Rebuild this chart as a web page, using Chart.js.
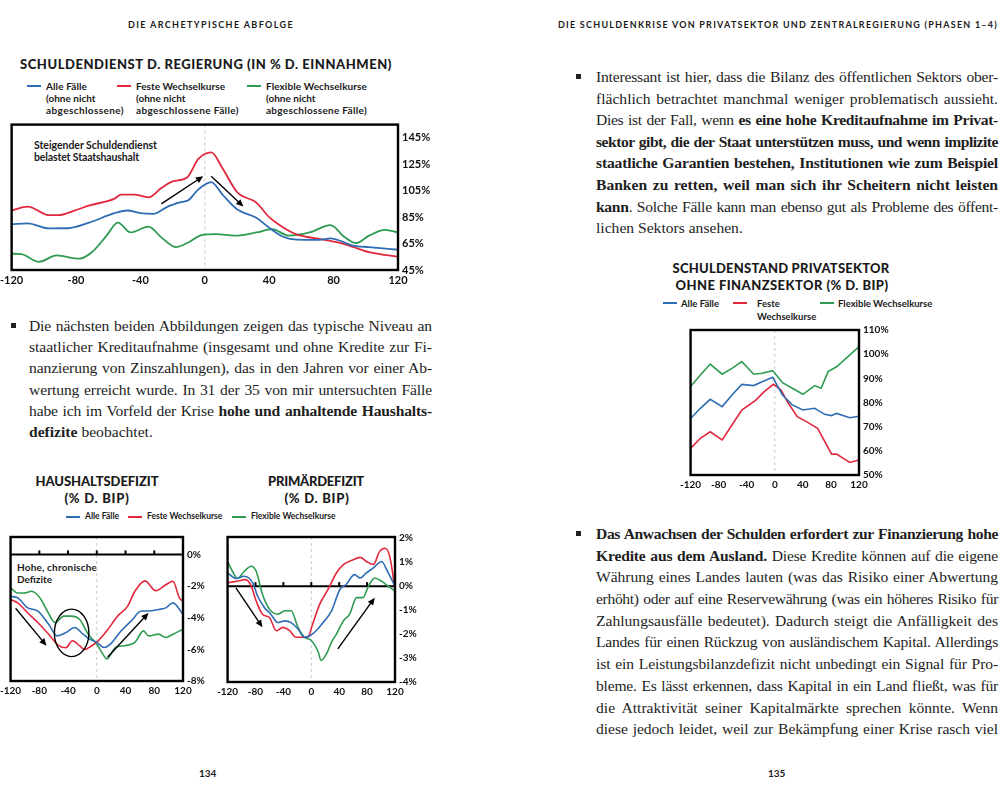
<!DOCTYPE html>
<html><head><meta charset="utf-8">
<script src="https://cdn.jsdelivr.net/npm/chart.js@4.4.1/dist/chart.umd.min.js"></script>
<style>
html,body{margin:0;padding:0;background:#fff;width:1000px;height:800px;overflow:hidden;position:relative;}
.abs{position:absolute;white-space:nowrap;}
.sans{font-family:Lato,'DejaVu Sans',sans-serif;font-weight:700;color:#1a1a1a;}
.hdr{font-size:9px;letter-spacing:2px;}
.ctitle{font-size:13px;font-weight:900;line-height:17px;}
.lg{font-size:10px;line-height:12px;}
.body{font-family:'Liberation Serif','DejaVu Serif',serif;font-size:15.6px;color:#1e1e1e;}
.bullet{position:absolute;width:5px;height:5px;background:#222;}
.lgline{position:absolute;height:2px;}
canvas{position:absolute;}
</style></head>
<body>
<script>
// ---------- DATA ----------
const seriesNames = ['Alle Fälle','Feste Wechselkurse','Flexible Wechselkurse'];
const seriesColors = ['#2e6db4','#e2283c','#2f9a52'];

// Chart 1: Schuldendienst d. Regierung (in % d. Einnahmen)
const c1BlueX = [-120,-110,-97,-85,-72,-56,-48,-40,-32,-23,-16,-10,-4,4,11,20,32,40,49,57,71,78,92,102,120];
const c1BlueY = [79.6,80.3,76.5,76.6,80.8,88,90,88,87.4,93,96,98,106,111.5,102,91,84.5,77,70,68,67.8,69,63.5,62.3,60.3];
const c1RedX = [-120,-110,-97,-91,-81,-71,-56,-52,-44,-35,-27,-20,-11,-4,4,11,20,32,40,49,57,71,82,92,102,120];
const c1RedY = [90,93,86.5,86.5,90,94,99,102,102,100,107,112,115,129,134,122,104,96,85,77,72,68.5,66,62.5,58.5,55];
const c1GreenX = [-120,-114,-103,-92,-78,-70,-61,-54,-46,-35,-27,-18,-10,-2,7,19,32,42,52,65,78,87,94,102,112,120];
const c1GreenY = [57.3,57,51.2,56,53.6,58.6,71,80.8,73.4,77.8,69.7,62.3,66,71.4,72.2,71,73.4,75.9,71,73.4,78.9,69.7,65.3,71,75.4,73.4];
const c1YTicks = [45,65,85,105,125,145];
const c1Arrows = [[-27,95,-1,116],[4,116,24,93]];

// Chart 2: Haushaltsdefizit (% d. BIP)
const c2BlueX = [-120,-110,-96,-82,-67,-55,-43,-31,-19,-10,0,10,19,34,48,62,72,86,96,106,120];
const c2BlueY = [-2.65,-2.75,-3.38,-3.58,-4.42,-5.15,-4.94,-4.62,-5.04,-5.35,-5.56,-5.88,-5.67,-4.83,-4.2,-3.58,-3.58,-3.48,-3.38,-3.06,-3.79];
const c2RedX = [-120,-110,-96,-82,-67,-53,-43,-34,-24,-17,-7,2,14,29,43,53,67,82,96,106,115,120];
const c2RedY = [-2.85,-3.06,-3.7,-4.3,-5.04,-5.77,-5.9,-5.46,-5.77,-6.0,-5.77,-5.46,-4.83,-3.9,-3.27,-2.33,-1.67,-2.3,-1.92,-1.7,-2.75,-2.96];
const c2GreenX = [-120,-110,-101,-91,-79,-70,-58,-46,-36,-24,-12,0,7,14,26,38,53,65,72,86,96,106,120];
const c2GreenY = [-2.12,-2.44,-2.44,-2.33,-2.75,-3.48,-4.31,-3.9,-3.9,-4.1,-5.04,-5.67,-6.19,-6.6,-5.88,-5.77,-5.56,-4.83,-5.15,-5.04,-5.25,-5.04,-4.73];
const c2YTicks = [-8,-6,-4,-2,0];
const c2Arrows = [[-113,-3.4,-70,-5.77],[15,-6.5,72,-3.7]];
const c2Ellipse = [-35,-4.96,24,1.5];

// Chart 3: Primärdefizit (% d. BIP)
const c3BlueX = [-120,-108,-96,-84,-77,-67,-58,-48,-38,-29,-19,-10,-2,7,17,29,41,50,62,70,79,89,101,108,120];
const c3BlueY = [0.55,0.32,0.41,0.14,-0.41,-0.9,-1.17,-1.52,-1.45,-1.52,-1.79,-2.13,-2.07,-1.86,-1.52,-1.03,-0.14,0.07,0.48,0.34,0.55,0.76,1.03,0.69,0];
const c3RedX = [-120,-108,-94,-86,-79,-70,-60,-50,-41,-31,-22,-12,-5,2,12,24,36,46,60,70,79,89,98,106,113,121];
const c3RedY = [0.14,0.2,0.27,0,-0.62,-1.17,-1.31,-1.86,-1.72,-1.86,-2.13,-2.13,-2.13,-1.58,-0.76,-0.14,0.55,0.9,1.1,1.2,1.03,0.9,1.45,1.58,1.17,-0.37];
const c3GreenX = [-120,-113,-106,-96,-86,-79,-70,-60,-48,-38,-29,-19,-10,0,10,14,22,29,36,46,55,65,74,82,91,101,110,120];
const c3GreenY = [1.03,0.62,0.32,0.62,0.83,0.62,-0.34,-0.96,-1.17,-1.03,-1.03,-1.72,-2.13,-2.27,-2.75,-3.1,-2.82,-2.34,-2.0,-1.45,-1.17,-0.48,-0.48,0,0.34,0.2,0,-0.2];
const c3YTicks = [-4,-3,-2,-1,0,1,2];
const c3Arrows = [[-108,-0.07,-70,-1.72],[38,-2.62,91,-0.48]];

// Chart 4: Schuldenstand Privatsektor ohne Finanzsektor (% d. BIP)
const c4BlueX = [-120,-106,-92,-75,-61,-47,-30,-18,-3,11,25,40,57,71,81,88,107,120];
const c4BlueY = [73.4,77.6,81.3,78.3,83.1,87.5,87,88.6,90.4,83.1,79,76.9,77.6,75.1,74.6,75.5,73.7,74.3];
const c4RedX = [-120,-106,-92,-75,-61,-47,-27,-15,-2,9,18,32,45,61,81,88,107,120];
const c4RedY = [61,65.2,67.9,64.5,70.7,76.9,81,84.5,87.5,85.2,80.3,74.1,72.1,69.3,58.6,58.7,55.2,56.2];
const c4GreenX = [-120,-106,-92,-75,-61,-47,-30,-18,-3,11,25,40,57,66,76,88,107,120];
const c4GreenY = [86.6,91.4,95.9,91.7,94.1,96.9,91.7,92.1,93.2,88.2,85.9,83.4,87,85.9,92.8,94.8,99.7,103.1];
const c4YTicks = [50,60,70,80,90,100,110];

const xTicks = [-120,-80,-40,0,40,80,120];

// ---------- HELPERS ----------
function el(tag, cls, css, html){
  const e=document.createElement(tag); if(cls) e.className=cls;
  Object.assign(e.style, css||{}); if(html!==undefined) e.innerHTML=html;
  document.body.appendChild(e); return e;
}
function fitWidth(e, w){
  const w0=e.getBoundingClientRect().width; const n=e.textContent.length;
  const cur=parseFloat(getComputedStyle(e).letterSpacing)||0;
  e.style.letterSpacing=(cur+(w-w0)/n)+'px';
}
function title(text, cx, top, w){
  const e=el('div','abs sans ctitle',{left:'0px',top:top+'px'},text);
  fitWidth(e,w);
  const r=e.getBoundingClientRect().width; e.style.left=(cx-r/2)+'px';
  return e;
}
function label(lines, widths, left, top, size, lh){
  lines.forEach((t,i)=>{
    const e=el('div','abs sans',{left:left+'px',top:(top+i*lh)+'px',fontSize:size+'px',lineHeight:lh+'px'},t);
    if(widths && widths[i]) fitWidth(e,widths[i]);
  });
}
function pts(xs,ys){ return xs.map((x,i)=>({x:x,y:ys[i]})); }

function arrow(ctx,x1,y1,x2,y2){
  const a=Math.atan2(y2-y1,x2-x1), h=8;
  ctx.beginPath(); ctx.moveTo(x1,y1); ctx.lineTo(x2-h*0.7*Math.cos(a), y2-h*0.7*Math.sin(a)); ctx.stroke();
  ctx.beginPath(); ctx.moveTo(x2,y2);
  ctx.lineTo(x2-h*Math.cos(a-0.42), y2-h*Math.sin(a-0.42));
  ctx.lineTo(x2-h*Math.cos(a+0.42), y2-h*Math.sin(a+0.42));
  ctx.closePath(); ctx.fill();
}

function makeDeco(cfg){
  return {
    id:'deco',
    beforeDatasetsDraw(chart){
      const {ctx, chartArea:a, scales:{x,y}} = chart;
      ctx.save();
      const x0=x.getPixelForValue(0);
      ctx.strokeStyle='#c9c9c9'; ctx.lineWidth=1; ctx.setLineDash([3,3]);
      ctx.beginPath(); ctx.moveTo(x0,a.top); ctx.lineTo(x0,a.bottom); ctx.stroke();
      ctx.setLineDash([]);
      if(cfg.zeroLine){
        const y0=y.getPixelForValue(0);
        ctx.strokeStyle='#000'; ctx.lineWidth=2;
        ctx.beginPath(); ctx.moveTo(a.left,y0); ctx.lineTo(a.right,y0); ctx.stroke();
        [-80,-40,0,40,80].forEach(v=>{ const px=x.getPixelForValue(v);
          ctx.beginPath(); ctx.moveTo(px,y0); ctx.lineTo(px,y0-4); ctx.stroke(); });
      }
      ctx.restore();
    },
    afterDatasetsDraw(chart){
      const {ctx, chartArea:a, scales:{x,y}} = chart;
      ctx.save();
      ctx.strokeStyle='#000'; ctx.fillStyle='#000'; ctx.lineWidth=1.4;
      (cfg.arrows||[]).forEach(r=>arrow(ctx,x.getPixelForValue(r[0]),y.getPixelForValue(r[1]),x.getPixelForValue(r[2]),y.getPixelForValue(r[3])));
      if(cfg.ellipse){
        const e=cfg.ellipse; const cx=x.getPixelForValue(e[0]), cy=y.getPixelForValue(e[1]);
        const rx=Math.abs(x.getPixelForValue(e[0]+e[2])-cx), ry=Math.abs(y.getPixelForValue(e[1]+e[3])-cy);
        ctx.beginPath(); ctx.ellipse(cx,cy,rx,ry,0,0,Math.PI*2); ctx.stroke();
      }
      ctx.lineWidth=2.4; ctx.strokeRect(a.left,a.top,a.width,a.height);
      ctx.restore();
    }
  };
}

function makeChart(box, series, yMin, yMax, yTicks, fontSize, lineW, tension, cfg){
  const pl=14, pt=8, yw=36, xh=20;
  const c=document.createElement('canvas');
  const W=pl+(box.r-box.l)+yw, H=pt+(box.b-box.t)+xh;
  c.width=W; c.height=H; c.style.left=(box.l-pl)+'px'; c.style.top=(box.t-pt)+'px';
  document.body.appendChild(c);
  const font={family:'Lato', weight:'bold', size:fontSize};
  return new Chart(c,{
    type:'line',
    data:{datasets:series.map((s,i)=>({label:seriesNames[i], data:pts(s[0],s[1]), borderColor:seriesColors[i],
      borderWidth:lineW, pointRadius:0, tension:tension, cubicInterpolationMode: tension>0?'monotone':'default', fill:false}))},
    options:{
      responsive:false, animation:false, devicePixelRatio:1,
      layout:{padding:{left:pl,top:pt,right:0,bottom:0}},
      plugins:{legend:{display:false}, tooltip:{enabled:false}},
      scales:{
        x:{type:'linear', min:-120, max:120, grid:{display:false, drawTicks:false}, border:{display:false},
          afterBuildTicks:s=>{s.ticks=xTicks.map(v=>({value:v}));},
          afterFit:s=>{s.height=xh;},
          ticks:{color:'#111', font:font, padding:4, maxRotation:0, autoSkip:false}},
        y:{position:'right', min:yMin, max:yMax, grid:{display:false, drawTicks:false}, border:{display:false},
          afterBuildTicks:s=>{s.ticks=yTicks.map(v=>({value:v}));},
          afterFit:s=>{s.width=yw;},
          ticks:{color:'#111', font:font, padding:4, autoSkip:false, callback:v=>v+'%'}}
      }
    },
    plugins:[makeDeco(cfg)]
  });
}

// ---------- PAGE TEXT ----------
function para(left, top, width, lh, lines, justifyLast){
  const box=el('div','body',{position:'absolute',left:left+'px',top:top+'px',width:width+'px'});
  lines.forEach(h=>{
    const d=document.createElement('div'); d.style.height=lh+'px'; d.style.lineHeight=lh+'px'; d.style.whiteSpace='nowrap';
    const s=document.createElement('span'); s.innerHTML=h; d.appendChild(s); box.appendChild(d);
  });
  [...box.children].forEach((d,i)=>{
    const s=d.firstChild;
    const n=(s.textContent.match(/ /g)||[]).length, chars=s.textContent.length;
    let w=s.getBoundingClientRect().width;
    const justify = !(i===lines.length-1 && !justifyLast);
    const minGap = 1.0*n;
    if(width - w < minGap && justify){
      s.style.letterSpacing=((width - w - minGap)/chars)+'px';
      w=s.getBoundingClientRect().width;
    }
    if(justify && n>0) s.style.wordSpacing=((width-w)/n)+'px';
  });
}

function build(){
  const h1=el('div','abs sans hdr',{left:'128px',top:'19px'},'DIE ARCHETYPISCHE ABFOLGE'); fitWidth(h1,166);
  const h2=el('div','abs sans hdr',{left:'558px',top:'19px'},'DIE SCHULDENKRISE VON PRIVATSEKTOR UND ZENTRALREGIERUNG (PHASEN 1–4)'); fitWidth(h2,440);
  el('div','abs sans',{left:'199px',top:'767px',fontSize:'10px'},'134');
  el('div','abs sans',{left:'768px',top:'767px',fontSize:'10px'},'135');

  title('SCHULDENDIENST D. REGIERUNG (IN % D. EINNAHMEN)',206,56,372);
  const c1Notes=[['(ohne nicht','abgeschlossene)'],['(ohne nicht','abgeschlossene Fälle)'],['(ohne nicht','abgeschlossene Fälle)']];
  const c1NoteW=[[41,78],[89,103],[101,101]];
  const c1LgX=[27,117,247];
  seriesNames.forEach((n,i)=>{
    el('div','lgline',{left:c1LgX[i]+'px',top:'85px',width:'14px',background:seriesColors[i]});
    label([n].concat(c1Notes[i]), [c1NoteW[i][0], null, c1NoteW[i][1]], c1LgX[i]+19, 80, 10, 12.2);
  });
  label(['Steigender Schuldendienst','belastet Staatshaushalt'],[123,105],34,140,10.5,11.5);

  title('HAUSHALTSDEFIZIT',97,473,123);
  title('(% D. BIP)',97,490,65);
  title('PRIMÄRDEFIZIT',316,473,96);
  title('(% D. BIP)',317,490,65);
  const lg2X=[66,128,232];
  seriesNames.forEach((n,i)=>{
    el('div','lgline',{left:lg2X[i]+'px',top:'516px',width:'14px',background:seriesColors[i]});
    el('div','abs sans',{left:(lg2X[i]+19)+'px',top:'511px',fontSize:'8.5px'},n);
  });
  label(['Hohe, chronische','Defizite'],[80,null],17,561,10,12);

  title('SCHULDENSTAND PRIVATSEKTOR',781,260,217);
  title('OHNE FINANZSEKTOR (% D. BIP)',782,277,213);
  const lg4X=[663,733,820];
  const lg4T=['Alle Fälle','Feste<br>Wechselkurse','Flexible Wechselkurse'];
  lg4X.forEach((x,i)=>{
    el('div','lgline',{left:x+'px',top:'302px',width:'14px',background:seriesColors[i]});
    el('div','abs sans lg',{left:(x+(i===1?24:18))+'px',top:'297px',fontSize:'9.5px',lineHeight:'13px'},lg4T[i]);
  });

  el('div','bullet',{left:'11px',top:'323px'});
  para(29,315,403,21.2,[
    'Die nächsten beiden Abbildungen zeigen das typische Niveau an',
    'staatlicher Kreditaufnahme (insgesamt und ohne Kredite zur Fi-',
    'nanzierung von Zinszahlungen), das in den Jahren vor einer Ab-',
    'wertung erreicht wurde. In 31 der 35 von mir untersuchten Fälle',
    'habe ich im Vorfeld der Krise <b>hohe und anhaltende Haushalts-</b>',
    '<b>defizite</b> beobachtet.'],false);

  el('div','bullet',{left:'576px',top:'74px'});
  para(596,66,402,21.6,[
    'Interessant ist hier, dass die Bilanz des öffentlichen Sektors ober-',
    'flächlich betrachtet manchmal weniger problematisch aussieht.',
    'Dies ist der Fall, wenn <b>es eine hohe Kreditaufnahme im Privat-</b>',
    '<b>sektor gibt, die der Staat unterstützen muss, und wenn implizite</b>',
    '<b>staatliche Garantien bestehen, Institutionen wie zum Beispiel</b>',
    '<b>Banken zu retten, weil man sich ihr Scheitern nicht leisten</b>',
    '<b>kann</b>. Solche Fälle kann man ebenso gut als Probleme des öffent-',
    'lichen Sektors ansehen.'],false);

  el('div','bullet',{left:'576px',top:'531px'});
  para(596,523,402,21.7,[
    '<b>Das Anwachsen der Schulden erfordert zur Finanzierung hohe</b>',
    '<b>Kredite aus dem Ausland.</b> Diese Kredite können auf die eigene',
    'Währung eines Landes lauten (was das Risiko einer Abwertung',
    'erhöht) oder auf eine Reservewährung (was ein höheres Risiko für',
    'Zahlungsausfälle bedeutet). Dadurch steigt die Anfälligkeit des',
    'Landes für einen Rückzug von ausländischem Kapital. Allerdings',
    'ist ein Leistungsbilanzdefizit nicht unbedingt ein Signal für Pro-',
    'bleme. Es lässt erkennen, dass Kapital in ein Land fließt, was für',
    'die Attraktivität seiner Kapitalmärkte sprechen könnte. Wenn',
    'diese jedoch leidet, weil zur Bekämpfung einer Krise rasch viel'],true);

  makeChart({l:10,t:122,r:398,b:270},[[c1BlueX,c1BlueY],[c1RedX,c1RedY],[c1GreenX,c1GreenY]],45,155,c1YTicks,11,1.8,0.4,{arrows:c1Arrows});
  makeChart({l:10,t:535,r:183,b:681},[[c2BlueX,c2BlueY],[c2RedX,c2RedY],[c2GreenX,c2GreenY]],-8,1.1,c2YTicks,10,1.6,0.4,{arrows:c2Arrows,ellipse:c2Ellipse,zeroLine:true});
  makeChart({l:227,t:535,r:395,b:682},[[c3BlueX,c3BlueY],[c3RedX,c3RedY],[c3GreenX,c3GreenY]],-4,2.05,c3YTicks,10,1.6,0.4,{arrows:c3Arrows,zeroLine:true});
  makeChart({l:690,t:328,r:859,b:475},[[c4BlueX,c4BlueY],[c4RedX,c4RedY],[c4GreenX,c4GreenY]],50,110,c4YTicks,10,1.6,0,{});
}
if(document.fonts && document.fonts.ready){ document.fonts.ready.then(build); } else { build(); }
</script>
</body></html>
